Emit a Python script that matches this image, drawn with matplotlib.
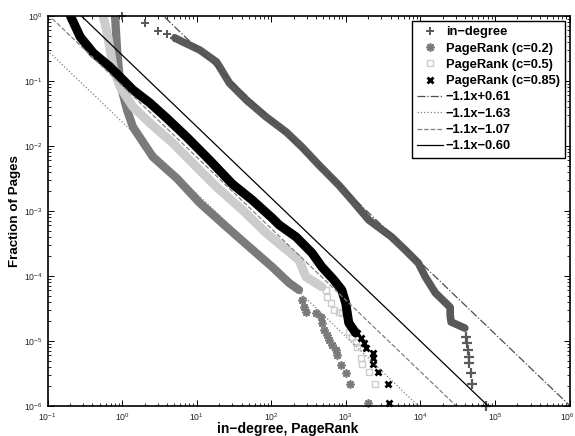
import numpy as np
import matplotlib
matplotlib.use('Agg')
import matplotlib.pyplot as plt
import matplotlib.transforms as mtransforms
from matplotlib.lines import Line2D

plt.rcParams['font.family'] = ['Liberation Sans', 'DejaVu Sans']
plt.rcParams['mathtext.fontset'] = 'custom'
plt.rcParams['mathtext.rm'] = 'Liberation Sans'
plt.rcParams['mathtext.it'] = 'Liberation Sans:italic'
plt.rcParams['mathtext.bf'] = 'Liberation Sans:bold'

# in-degree
indeg_head_x = [1, 2, 3, 4, 5]
indeg_head_y = [1.0, 0.78, 0.59, 0.53, 0.46]
indeg_body_x = [5.1, 6.5, 11.0, 18.5, 21.5, 27.5, 46.4, 85.5, 159, 258, 436, 806, 1202,
                2025, 4103, 6306, 9400, 1.166e4, 1.589e4, 2.51e4, 2.51e4, 2.585e4, 3.196e4, 3.948e4]
indeg_body_y = [0.46, 0.40, 0.30, 0.196, 0.148, 0.093, 0.051, 0.028, 0.0164, 0.00966, 0.0051,
                0.0025, 0.00148, 7.3e-4, 4.0e-4, 2.5e-4, 1.58e-4, 9.7e-5, 5.5e-5, 3.3e-5,
                2.5e-5, 1.96e-5, 1.76e-5, 1.58e-5]
indeg_tail_x = [4.11e4, 4.23e4, 4.32e4, 4.51e4, 4.51e4, 4.79e4, 4.94e4, 7.6e4]
indeg_tail_y = [1.15e-5, 9.3e-6, 7.2e-6, 5.6e-6, 4.6e-6, 3.2e-6, 2.2e-6, 1.0e-6]

# PageRank c=0.2
pr02_body_x = [0.806, 0.83, 0.857, 0.94, 1.166, 1.40, 2.585, 5.4, 11.0, 25.1, 50.8, 103, 174, 236]
pr02_body_y = [1.0, 0.55, 0.30, 0.093, 0.0358, 0.0196, 0.0068, 0.0032, 0.00133, 5.7e-4,
               2.8e-4, 1.38e-4, 7.8e-5, 6.1e-5]
pr02_tail_x = [258, 275, 292, 399, 463, 478, 509, 557, 593, 650, 735, 759, 857, 1000, 1130, 1964]
pr02_tail_y = [4.3e-5, 3.3e-5, 2.8e-5, 2.7e-5, 2.3e-5, 1.9e-5, 1.48e-5, 1.24e-5, 1.04e-5,
               8.7e-6, 7.2e-6, 6.1e-6, 4.3e-6, 3.2e-6, 2.2e-6, 1.1e-6]

# PageRank c=0.5
pr05_body_x = [0.557, 0.631, 0.759, 0.94, 1.40, 2.36, 4.79, 9.96, 18.5, 41.1, 85.5, 236, 292, 352, 478]
pr05_body_y = [1.0, 0.547, 0.164, 0.081, 0.040, 0.0226, 0.0111, 0.00475, 0.00234, 0.00104,
               4.6e-4, 1.76e-4, 9.7e-5, 8.5e-5, 6.8e-5]
pr05_tail_x = [540, 557, 631, 692, 806, 884, 1096, 1202, 1358, 1401, 1585, 1636, 2025, 2433]
pr05_tail_y = [6.1e-5, 4.8e-5, 3.8e-5, 3.0e-5, 2.8e-5, 2.7e-5, 1.38e-5, 1.15e-5, 9.7e-6,
               8.1e-6, 5.5e-6, 4.4e-6, 3.3e-6, 2.2e-6]

# PageRank c=0.85
pr085_body_x = [0.203, 0.275, 0.411, 0.691, 1.034, 1.40, 2.36, 3.95, 7.33, 14.85, 30.1, 55.5,
                103, 128, 215, 352, 478, 692, 884, 1000, 1096, 1358]
pr085_body_y = [1.0, 0.475, 0.27, 0.164, 0.1035, 0.073, 0.046, 0.027, 0.0138, 0.0061, 0.0026,
                0.00148, 7.8e-4, 6.1e-4, 4.0e-4, 2.26e-4, 1.38e-4, 8.7e-5, 6.1e-5, 3.8e-5,
                1.9e-5, 1.33e-5]
pr085_tail_x = [1401, 1585, 1738, 1847, 2291, 2291, 2291, 2670, 3630, 3854]
pr085_tail_y = [1.33e-5, 1.11e-5, 9.3e-6, 7.8e-6, 6.5e-6, 5.5e-6, 4.4e-6, 3.3e-6, 2.2e-6, 1.1e-6]

# Geraden log10(y) = -1.1 log10(x) + b
slope = -1.1
intercepts = [0.61, -1.63, -1.07, -0.60]
fit_labels = ['\u22121.1x+0.61', '\u22121.1x\u22121.63', '\u22121.1x\u22121.07', '\u22121.1x\u22120.60']
fit_styles = ['-.', ':', '--', '-']
fit_colors = ['#4d4d4d', '#808080', '#808080', 'black']

c_in = '#595959'
c_02 = '#7a7a7a'
c_05 = '#cccccc'
c_085 = 'black'

fig = plt.figure(figsize=(5.75, 4.36), dpi=100)
ax = fig.add_axes([47.5/575, 1 - 406/436, 522/575, 390/436])

ax.plot(indeg_head_x, indeg_head_y, ls='none', marker='+', ms=6, mew=1.4, color=c_in, clip_on=False)
ax.plot(indeg_body_x, indeg_body_y, color=c_in, lw=5.5, solid_capstyle='round', solid_joinstyle='round')
ax.plot(indeg_tail_x, indeg_tail_y, ls='none', marker='+', ms=7, mew=1.6, color=c_in, clip_on=False)

ax.plot(pr02_body_x, pr02_body_y, color=c_02, lw=6, solid_capstyle='round', solid_joinstyle='round')
ax.plot(pr02_tail_x, pr02_tail_y, ls='none', marker=(8, 2, 0), ms=6, mew=1.2, color=c_02, clip_on=False)

ax.plot(pr05_body_x, pr05_body_y, color=c_05, lw=6.5, solid_capstyle='round', solid_joinstyle='round')
ax.plot(pr05_tail_x, pr05_tail_y, ls='none', marker='s', ms=5, mew=1.0, mfc='none', color=c_05, clip_on=False)

ax.plot(pr085_body_x, pr085_body_y, color=c_085, lw=6.5, solid_capstyle='round', solid_joinstyle='round')
ax.plot(pr085_tail_x, pr085_tail_y, ls='none', marker='x', ms=5, mew=2.0, color=c_085, clip_on=False)

xs = np.array([1e-1, 1e6])
for b, st, col in zip(intercepts, fit_styles, fit_colors):
    ax.plot(xs, 10 ** (slope * np.log10(xs) + b), ls=st, color=col, lw=0.9)

ax.set_xscale('log')
ax.set_yscale('log')
ax.set_xlim(1e-1, 1e6)
ax.set_ylim(1e-6, 1)
ax.set_xticks([10.0 ** k for k in range(-1, 7)])
ax.set_yticks([10.0 ** k for k in range(-6, 1)])
ax.tick_params(which='both', direction='in', top=True, right=True, labelsize=6.2, pad=3.5,
               labelcolor='#222222')
ax.tick_params(which='major', length=4, width=0.7)
ax.tick_params(which='minor', length=2, width=0.6)
for s in ax.spines.values():
    s.set_linewidth(1.2)

# letztes x-Label etwas nach links, damit es nicht abgeschnitten wird
fig.canvas.draw()
last = ax.get_xticklabels()[-1]
last.set_transform(last.get_transform() + mtransforms.ScaledTranslation(-2/100, 0, fig.dpi_scale_trans))

ax.set_xlabel('in\u2212degree, PageRank', fontsize=10, fontweight='bold', va='baseline')
ax.xaxis.set_label_coords(0.5, 3.5/436, transform=fig.transFigure)
ax.set_ylabel('Fraction of Pages', fontsize=9.6, fontweight='bold', labelpad=2)

handles = [
    Line2D([], [], ls='none', marker='+', ms=6, mew=1.4, color=c_in),
    Line2D([], [], ls='none', marker=(8, 2, 0), ms=6, mew=1.2, color=c_02),
    Line2D([], [], ls='none', marker='s', ms=4, mew=1.0, mfc='none', color=c_05),
    Line2D([], [], ls='none', marker='x', ms=4, mew=2.0, color=c_085),
]
for st, col in zip(fit_styles, fit_colors):
    handles.append(Line2D([], [], ls=st, color=col, lw=0.9))
labels = ['in\u2212degree', 'PageRank (c=0.2)', 'PageRank (c=0.5)', 'PageRank (c=0.85)'] + fit_labels

leg = ax.legend(handles, labels, loc='upper right',
                bbox_to_anchor=((565 - 47.5) / 522, 1 - 5/390), borderaxespad=0,
                prop={'size': 9.3, 'weight': 'bold'}, frameon=True, fancybox=False,
                handlelength=2.0, handletextpad=0.2, labelspacing=0.33, borderpad=0.4)
leg.get_frame().set_edgecolor('black')
leg.get_frame().set_linewidth(1.0)
leg.get_frame().set_alpha(1)

fig.savefig('out.png', dpi=100)
